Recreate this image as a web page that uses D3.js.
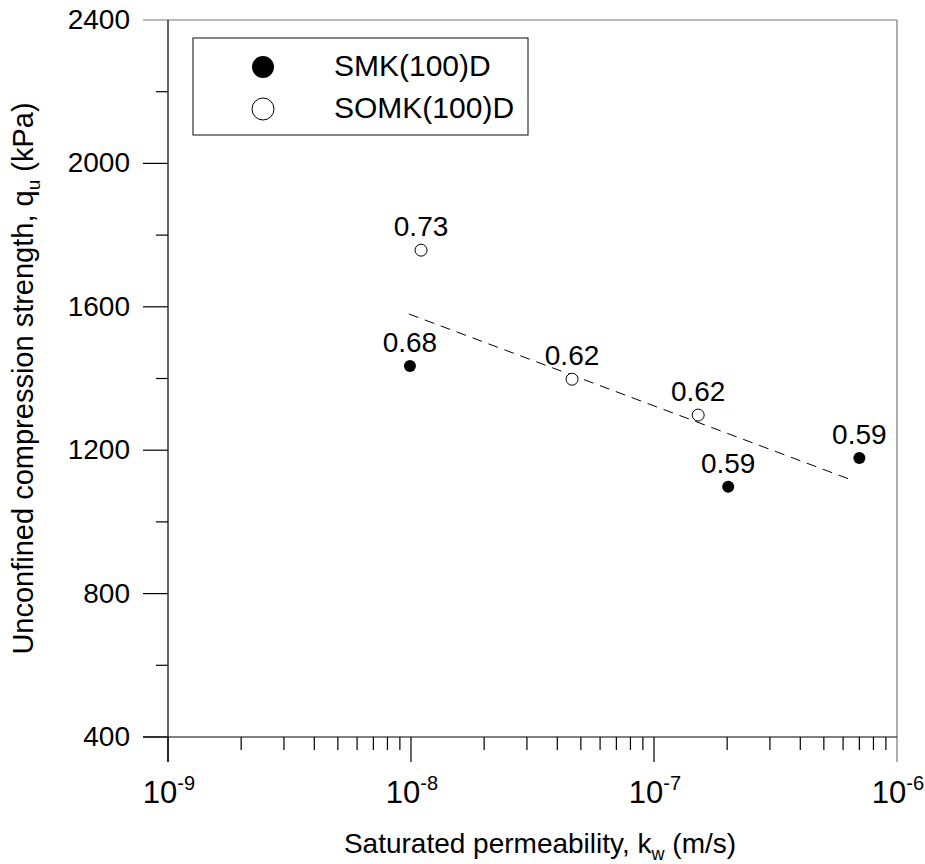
<html>
<head>
<script src="https://cdn.jsdelivr.net/npm/d3@7"></script>
<style>
  body { margin: 0; background: #fff; }
  text { font-family: "Liberation Sans", Arial, sans-serif; fill: #000; }
  .axis { stroke: #000; stroke-width: 1.2; }
  .frame { stroke: #777; stroke-width: 1.2; }
  .fit { stroke: #000; stroke-width: 1; stroke-dasharray: 10,7; fill: none; }
</style>
</head>
<body>
<script>
// data
let smkK = [0.99e-8, 2.02e-7, 7.0e-7]
let smkQ = [1435, 1098, 1178]
let smkLabel = ["0.68", "0.59", "0.59"]
let somkK = [1.1e-8, 4.6e-8, 1.52e-7]
let somkQ = [1758, 1398, 1298]
let somkLabel = ["0.73", "0.62", "0.62"]
let fitK = [0.98e-8, 6.5e-7]
let fitQ = [1580, 1117]
let xTicks = [1e-9, 1e-8, 1e-7, 1e-6]
let xTickExp = ["-9", "-8", "-7", "-6"]
let yTicks = [400, 800, 1200, 1600, 2000, 2400]
let yMinor = [600, 1000, 1400, 1800, 2200]
let seriesNames = ["SMK(100)D", "SOMK(100)D"]

let W = 925, H = 864
let pl = 168, pr = 897, pt = 20, pb = 737

let svg = d3.select("body").append("svg").attr("width", W).attr("height", H)

let x = d3.scaleLog().domain([1e-9, 1e-6]).range([pl, pr])
let y = d3.scaleLinear().domain([400, 2400]).range([pb, pt])

// frame (top, right)
svg.append("line").attr("class", "frame").attr("x1", pl - 25).attr("x2", pr).attr("y1", pt).attr("y2", pt)
svg.append("line").attr("class", "frame").attr("x1", pr).attr("x2", pr).attr("y1", pt).attr("y2", pb + 25)

// x axis
let xMinor = []
for (let d = -9; d < -6; d++) {
  for (let m = 2; m <= 9; m++) xMinor.push(m * Math.pow(10, d))
}
let xAxis = svg.append("g").attr("transform", "translate(0," + pb + ")")
xAxis.append("line").attr("class", "axis").attr("x1", pl - 25).attr("x2", pr).attr("y1", 0).attr("y2", 0)
xAxis.selectAll(".minor").data(xMinor).enter().append("line")
  .attr("class", "axis").attr("x1", d => x(d)).attr("x2", d => x(d)).attr("y1", 0).attr("y2", 13)
xAxis.selectAll(".major").data(xTicks.slice(0, 3)).enter().append("line")
  .attr("class", "axis").attr("x1", d => x(d)).attr("x2", d => x(d)).attr("y1", 0).attr("y2", 25)
let xl = xAxis.selectAll(".xl").data(xTicks).enter().append("text")
  .attr("x", d => x(d) + 1).attr("y", 66)
  .attr("text-anchor", "middle").style("font-size", "31px")
xl.append("tspan").text("10")
xl.append("tspan").attr("dy", -13).style("font-size", "20px").text((d, i) => xTickExp[i])

// y axis
let yAxis = svg.append("g").attr("transform", "translate(" + pl + ",0)")
yAxis.append("line").attr("class", "axis").attr("x1", 0).attr("x2", 0).attr("y1", pt).attr("y2", pb + 25)
yAxis.selectAll(".major").data(yTicks.slice(0, 5)).enter().append("line")
  .attr("class", "axis").attr("x1", -25).attr("x2", 0).attr("y1", d => y(d)).attr("y2", d => y(d))
yAxis.selectAll(".minor").data(yMinor).enter().append("line")
  .attr("class", "axis").attr("x1", -12).attr("x2", 0).attr("y1", d => y(d)).attr("y2", d => y(d))
yAxis.selectAll(".yl").data(yTicks).enter().append("text")
  .attr("x", -38).attr("y", d => y(d) + 9)
  .attr("text-anchor", "end").style("font-size", "28px")
  .text(d => d)

// axis titles
let xt = svg.append("text").attr("x", 540).attr("y", 853).attr("text-anchor", "middle").style("font-size", "28px")
xt.append("tspan").text("Saturated permeability, k")
xt.append("tspan").attr("dy", 7).style("font-size", "18px").text("w")
xt.append("tspan").attr("dy", -7).text(" (m/s)")

let yt = svg.append("text").attr("transform", "translate(33," + ((pt + pb) / 2) + ") rotate(-90)")
  .attr("text-anchor", "middle").style("font-size", "29px")
yt.append("tspan").text("Unconfined compression strength, q")
yt.append("tspan").attr("dy", 7).style("font-size", "19px").text("u")
yt.append("tspan").attr("dy", -7).text(" (kPa)")

// fit line
let line = d3.line().x(d => x(d[0])).y(d => y(d[1]))
svg.append("path").datum(d3.zip(fitK, fitQ)).attr("class", "fit").attr("d", line)

// points
let smk = d3.zip(smkK, smkQ, smkLabel)
let somk = d3.zip(somkK, somkQ, somkLabel)
svg.selectAll(".smk").data(smk).enter().append("circle")
  .attr("cx", d => x(d[0])).attr("cy", d => y(d[1])).attr("r", 6).attr("fill", "#000")
svg.selectAll(".somk").data(somk).enter().append("circle")
  .attr("cx", d => x(d[0])).attr("cy", d => y(d[1])).attr("r", 6)
  .attr("fill", "#fff").attr("stroke", "#000").attr("stroke-width", 1)
svg.selectAll(".lab").data(smk.concat(somk)).enter().append("text")
  .attr("x", d => x(d[0])).attr("y", d => y(d[1]) - 14)
  .attr("text-anchor", "middle").style("font-size", "28px")
  .text(d => d[2])

// legend
let lg = svg.append("g")
lg.append("rect").attr("x", 193).attr("y", 38).attr("width", 335).attr("height", 97)
  .attr("fill", "none").attr("stroke", "#333").attr("stroke-width", 1.2)
lg.append("circle").attr("cx", 263).attr("cy", 67).attr("r", 11).attr("fill", "#000")
lg.append("circle").attr("cx", 263).attr("cy", 109).attr("r", 11).attr("fill", "#fff").attr("stroke", "#000")
lg.selectAll(".lt").data(seriesNames).enter().append("text")
  .attr("x", 334).attr("y", (d, i) => 76 + i * 42).style("font-size", "30px")
  .text(d => d)
</script>
</body>
</html>
